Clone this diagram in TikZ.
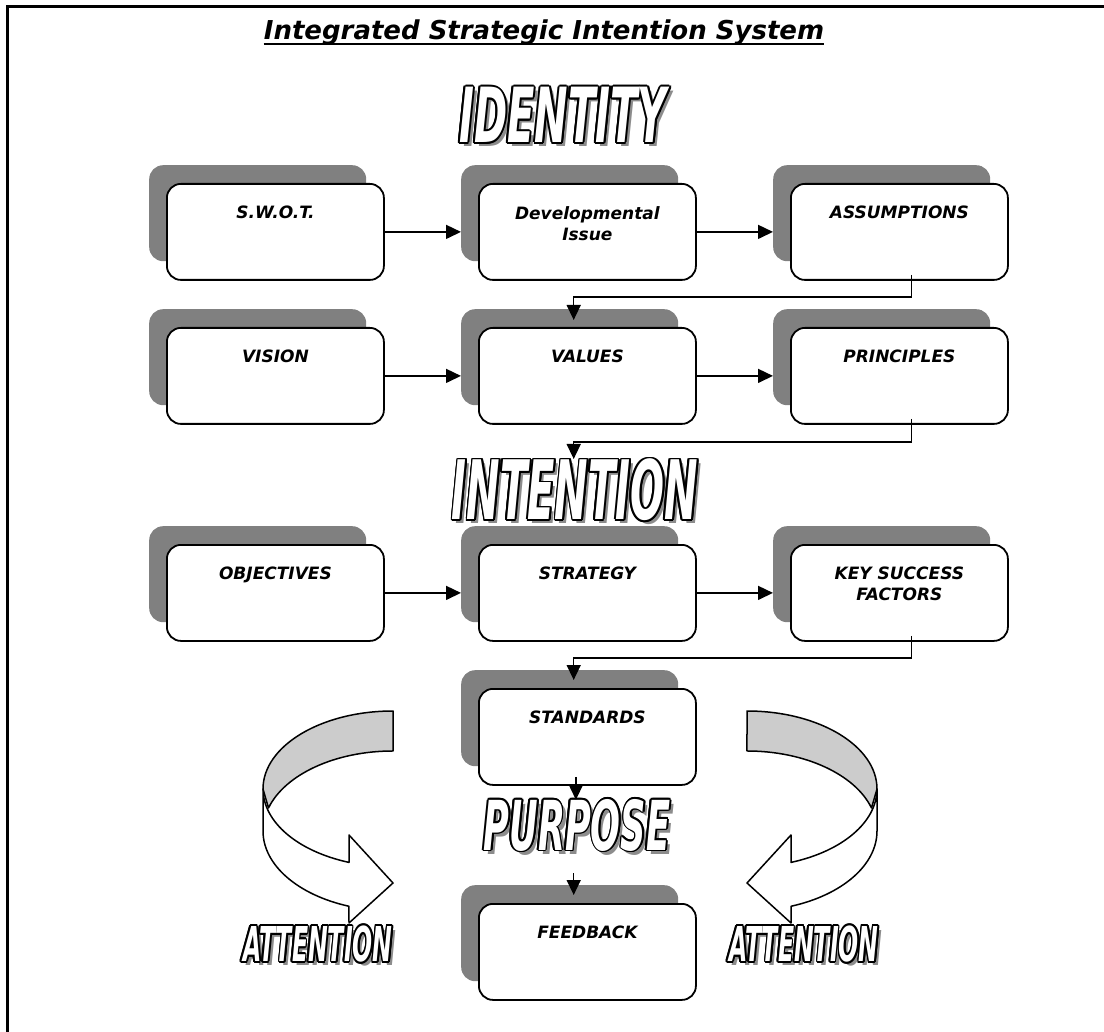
\documentclass[tikz,border=0pt]{standalone}
\usepackage{fontspec}
\setmainfont{DejaVu Sans}
\usepackage{graphicx}
\usetikzlibrary{arrows.meta,calc}
\definecolor{shadowgray}{HTML}{808080}
\definecolor{bandgray}{HTML}{CCCCCC}
\definecolor{wagray}{HTML}{8C8C8C}
\tikzset{
 boxsh/.style={fill=shadowgray, draw=none, rounded corners=14pt, minimum width=217pt, minimum height=96pt, inner sep=0pt, anchor=north west},
 boxmain/.style={fill=white, draw=black, line width=1.8pt, rounded corners=14pt, minimum width=217pt, minimum height=96pt, inner sep=0pt, anchor=north west},
 lbl/.style={font=\bfseries\itshape\fontsize{17}{21}\selectfont, align=center, anchor=north, inner sep=0pt},
 conn/.style={line width=1.5pt, -{Triangle[length=15pt,width=14pt]}},
 wabase/.style={inner sep=0pt, font=\bfseries\itshape\fontsize{40}{40}\selectfont},
 ribbon/.style={draw=black, line width=1.5pt, line join=round},
}
\newcommand\mybox[4]{%
 \node[boxsh] (#1sh) at (#2-17,#3-18) {};
 \node[boxmain] (#1) at (#2,#3) {};
 \node[lbl] (#1lbl) at ($(#1.north)+(0,23)$) {#4};
}
\newcommand\wordart[6]{%
 \node[wabase, text=wagray] (#1sh) at (#2+4,#3+4) {\scalebox{#4}[#5]{#6}};
 \foreach \ang in {0,30,...,330}{\node[wabase,text=black] (#1o\ang) at ($(#2,#3)+(\ang:1.8)$) {\scalebox{#4}[#5]{#6}};}
 \node[wabase, text=white] (#1) at (#2,#3) {\scalebox{#4}[#5]{#6}};
}
\newcommand\curvarrow{%
 % white front body
 \path[ribbon, fill=white] (263,789) -- (263,831)
   arc[start angle=180, end angle=109.8, x radius=130, y radius=80]
   -- (349,923) -- (393,883) -- (349,835) -- (349,862.4)
   arc[start angle=109.8, end angle=180, x radius=130, y radius=78] -- cycle;
 % grey back band
 \path[ribbon, fill=bandgray] (393,711)
   arc[start angle=270, end angle=180, x radius=130, y radius=78]
   -- (268.5,808)
   arc[start angle=196.7, end angle=270, x radius=130, y radius=80] -- cycle;
}
\begin{document}
\begin{tikzpicture}[x=1pt, y=-1pt]
\useasboundingbox (0,0) rectangle (1104,1032);
% frame
\draw[line width=3pt] (7,1032) -- (7,7) -- (1104,7);
% title
\node[font=\bfseries\itshape\fontsize{26}{30}\selectfont, anchor=base, inner sep=0pt] (title) at (544,40) {Integrated Strategic Intention System};
\draw[line width=2.5pt] ([yshift=-4pt]title.base west) -- ([yshift=-4pt]title.base east);
% word art
\wordart{identity}{563}{115}{1.0}{1.9}{IDENTITY}
\wordart{intention}{575}{490}{1.0}{2.05}{INTENTION}
\wordart{purpose}{577}{825}{0.88}{1.72}{PURPOSE}
% curved arrows
\curvarrow
\begin{scope}[shift={(1140,0)}, xscale=-1]
\curvarrow
\end{scope}
\wordart{attl}{318}{944}{0.59}{1.2}{ATTENTION}
\wordart{attr}{804}{944}{0.59}{1.2}{ATTENTION}
% boxes
\mybox{swot}{166}{183}{S.W.O.T.}
\mybox{dev}{478}{183}{Developmental\\Issue}
\mybox{assum}{790}{183}{ASSUMPTIONS}
\mybox{vis}{166}{327}{VISION}
\mybox{val}{478}{327}{VALUES}
\mybox{prin}{790}{327}{PRINCIPLES}
\mybox{obj}{166}{544}{OBJECTIVES}
\mybox{strat}{478}{544}{STRATEGY}
\mybox{ksf}{790}{544}{KEY SUCCESS\\FACTORS}
\mybox{std}{478}{688}{STANDARDS}
\mybox{fb}{478}{903}{FEEDBACK}
% horizontal connectors
\draw[conn] (swot.east) -- (swot.east -| devsh.west);
\draw[conn] (dev.east) -- (dev.east -| assumsh.west);
\draw[conn] (vis.east) -- (vis.east -| valsh.west);
\draw[conn] (val.east) -- (val.east -| prinsh.west);
\draw[conn] (obj.east) -- (obj.east -| stratsh.west);
\draw[conn] (strat.east) -- (strat.east -| ksfsh.west);
% elbow connectors
\coordinate (e1s) at ($(assum.south)+(12,-6)$);
\coordinate (e1t) at ($(valsh.north)+(4,11)$);
\draw[conn] (e1s) -- ++(0,22) -| (e1t);
\coordinate (e2s) at ($(prin.south)+(12,-6)$);
\coordinate (e2t) at ($(valsh.north)+(4,150)$);
\draw[conn] (e2s) -- ++(0,23) -| (e2t);
\coordinate (e3s) at ($(ksf.south)+(12,-6)$);
\coordinate (e3t) at ($(stdsh.north)+(4,10)$);
\draw[conn] (e3s) -- ++(0,22) -| (e3t);
% vertical connectors
\coordinate (v1s) at ($(std.south)+(-11.5,-9)$);
\coordinate (v1t) at ($(std.south)+(-11.5,14)$);
\draw[conn] (v1s) -- (v1t);
\coordinate (v2s) at ($(fbsh.north)+(4,-12)$);
\coordinate (v2t) at ($(fbsh.north)+(4,10)$);
\draw[conn] (v2s) -- (v2t);
\end{tikzpicture}
\end{document}
